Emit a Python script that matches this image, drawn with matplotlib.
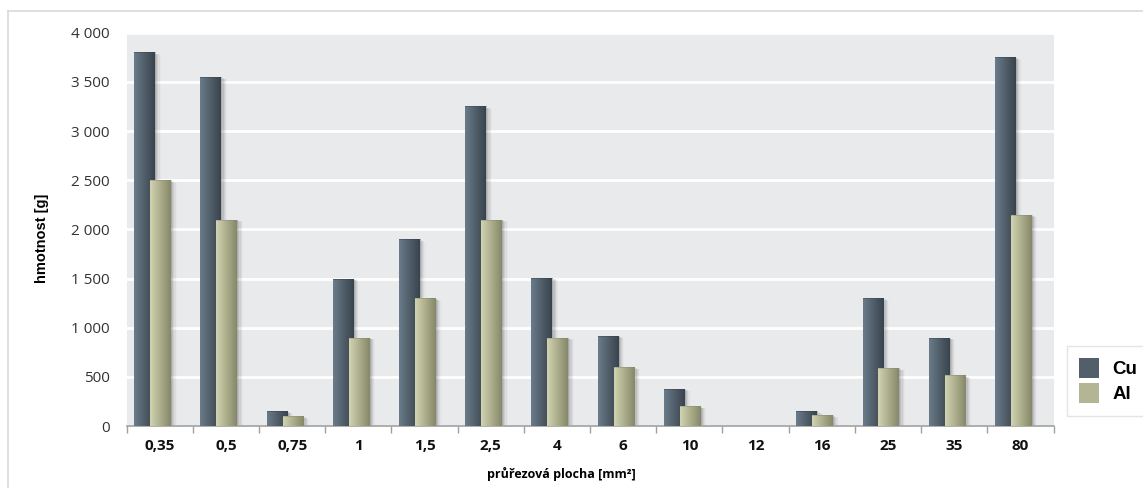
import matplotlib
matplotlib.use("Agg")
import matplotlib.pyplot as plt
import numpy as np
from matplotlib.patches import Rectangle, Patch
from matplotlib.lines import Line2D

plt.rcParams['font.family'] = ['Open Sans', 'DejaVu Sans']

# data
categories = ["0,35", "0,5", "0,75", "1", "1,5", "2,5", "4", "6", "10", "12", "16", "25", "35", "80"]
cu = [3800, 3550, 150, 1500, 1900, 3250, 1510, 920, 380, 0, 150, 1300, 900, 3750]
al = [2500, 2100, 100, 900, 1300, 2100, 900, 600, 200, 0, 110, 590, 515, 2150]
yticks = [0, 500, 1000, 1500, 2000, 2500, 3000, 3500, 4000]
ytick_labels = ["0", "500", "1 000", "1 500", "2 000", "2 500", "3 000", "3 500", "4 000"]

cu_colors = ("#6a7b8a", "#38434c")
al_colors = ("#d2d3b0", "#878869")

fig = plt.figure(figsize=(11.43, 4.88), dpi=100)
ax = fig.add_axes([0.1108, 0.127, 0.8109, 0.806])
ax.set_facecolor("#e9eaec")

x = np.arange(len(categories))
width = 0.31


def gradient_bars(ax, xpos, vals, colors):
    bars = ax.bar(xpos, vals, width, color="none", edgecolor="none", zorder=3)
    c1 = np.array(matplotlib.colors.to_rgb(colors[0]))
    c2 = np.array(matplotlib.colors.to_rgb(colors[1]))
    t = np.linspace(0, 1, 64)[None, :, None]
    grad = c1 * (1 - t) + c2 * t
    for b in bars:
        h = b.get_height()
        if h <= 0:
            continue
        x0 = b.get_x()
        w = b.get_width()
        # soft shadow on the right
        for k, a in enumerate([0.10, 0.08, 0.06, 0.04, 0.02]):
            ax.add_patch(Rectangle((x0 + 0.02 + k * 0.018, 0), w, h - 8 + k * -4,
                                   color="black", alpha=a, lw=0, zorder=2))
        im = ax.imshow(grad, extent=[x0, x0 + w, 0, h], aspect="auto", zorder=3,
                       interpolation="bilinear")
        im.set_clip_path(b)
        ax.plot([x0, x0 + w], [h, h], color=colors[1], lw=0.6, alpha=0.5, zorder=4)
    return bars


gradient_bars(ax, x + 0.27, cu, cu_colors)
gradient_bars(ax, x + 0.51, al, al_colors)

ax.set_xlim(0, len(categories))
ax.set_ylim(0, 4000)

ax.set_yticks(yticks)
ax.set_yticklabels(ytick_labels, fontsize=11, color="#333333")
ax.yaxis.grid(True, color="white", lw=2)
ax.set_axisbelow(True)
ax.tick_params(axis="y", length=0, pad=12)

ax.set_xticks(x + 0.5)
ax.set_xticklabels(categories, fontsize=11, fontweight="bold", color="#111111")
ax.set_xticks(np.arange(len(categories) + 1), minor=True)
ax.tick_params(axis="x", which="major", length=0, pad=9)
ax.tick_params(axis="x", which="minor", length=5, color="#a0a0a0", width=1)

for s in ["left", "right", "top"]:
    ax.spines[s].set_visible(False)
ax.spines["bottom"].set_color("#a0a0a0")
ax.spines["bottom"].set_linewidth(1.2)

ax.set_xlabel("průřezová plocha [mm²]", fontsize=9, fontweight="bold")
ax.xaxis.set_label_coords(0.4686, -0.105)
ax.set_ylabel("hmotnost [g]", fontsize=10.5, fontweight="bold",
              family=["Liberation Sans", "DejaVu Sans"])
ax.yaxis.set_label_coords(-0.084, 0.478)

# legend
handles = [Patch(facecolor="#525f6b", edgecolor="none"),
           Patch(facecolor="#b4b595", edgecolor="none")]
leg = fig.legend(handles, ["Cu", "Al"], loc="upper left",
                 bbox_to_anchor=(1067 / 1143, 1 - 346 / 488),
                 prop={"weight": "bold", "size": 13.5, "family": ["Liberation Sans", "DejaVu Sans"]},
                 frameon=True, fancybox=False,
                 handlelength=1.07, handleheight=1.23, labelspacing=0.27,
                 borderpad=0.65, handletextpad=0.7, borderaxespad=0)
leg.get_frame().set_edgecolor("#dedede")
leg.get_frame().set_linewidth(1)

# outer frame
fig.add_artist(Line2D([8 / 1143, 8 / 1143], [0, 1 - 11 / 488], transform=fig.transFigure,
                      color="#d9d9d9", lw=1.2))
fig.add_artist(Line2D([8 / 1143, 1], [1 - 11 / 488, 1 - 11 / 488], transform=fig.transFigure,
                      color="#d9d9d9", lw=1.2))

fig.savefig("out.png", dpi=100)
